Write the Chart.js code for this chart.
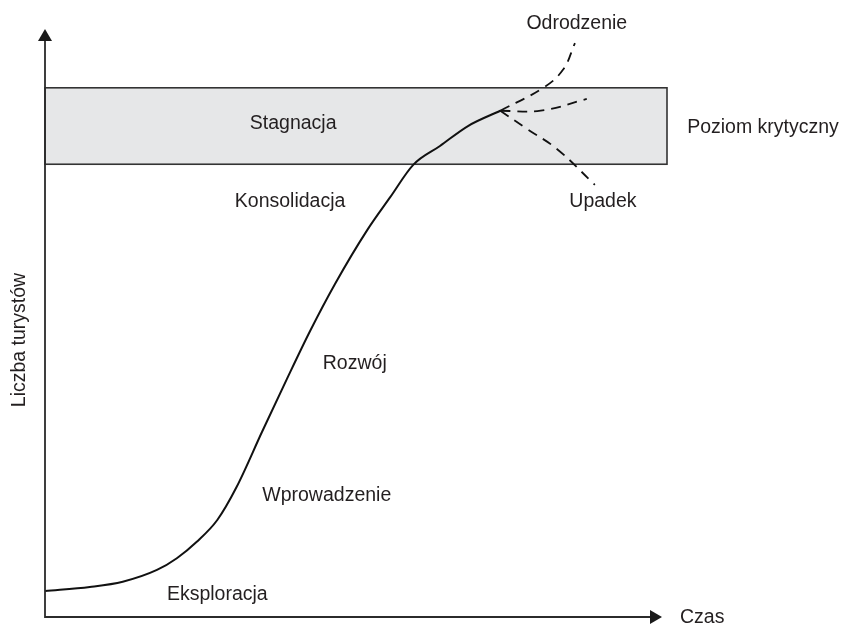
<!DOCTYPE html>
<html lang="pl">
<head>
<meta charset="utf-8">
<title>Cykl życia obszaru turystycznego</title>
<script src="https://cdn.jsdelivr.net/npm/chart.js@4/dist/chart.umd.min.js"></script>
<style>
    body { margin: 0; background: #fff; }
    #lifeCycle { display: block; }
</style>
</head>
<body>
<canvas id="lifeCycle" width="852" height="627"></canvas>
<script>
// time (0-100) vs number of tourists (0-100)
const curveTime    = [0, 7.2, 12.5, 18.0, 21.2, 24.4, 27.7, 30.8, 34.9, 38.9, 42.6, 46.6, 51.8, 55.5, 59.2, 63.5, 68.0, 73.2];
const curveTourist = [4.4, 5.1, 6.0, 8.0, 10.0, 12.8, 16.5, 22.1, 31.5, 40.5, 48.6, 56.6, 65.8, 71.4, 76.9, 80.1, 83.5, 86.1];

const revivalTime    = [73.2, 80.1, 83.3, 85.2];
const revivalTourist = [86.1, 90.0, 93.1, 97.6];

const steadyTime    = [73.2, 79.7, 87.1];
const steadyTourist = [86.1, 86.1, 88.1];

const declineTime    = [73.2, 77.5, 82.3, 88.4];
const declineTourist = [86.1, 83.0, 79.6, 73.5];

// critical capacity band
const bandLow = 77.0;
const bandHigh = 90.0;

const stageLabels = [
    { text: "Stagnacja", t: 39.9, n: 84.2 },
    { text: "Konsolidacja", t: 39.4, n: 70.9 },
    { text: "Rozwój", t: 49.8, n: 43.4 },
    { text: "Wprowadzenie", t: 45.3, n: 21.0 },
    { text: "Eksploracja", t: 27.7, n: 4.2 },
    { text: "Odrodzenie", t: 85.5, n: 101.2 },
    { text: "Upadek", t: 89.7, n: 70.9 }
];

const axisTitleY = "Liczba turystów";
const axisTitleX = "Czas";
const bandTitle = "Poziom krytyczny";

const textColor = "#231f20";
const fontSpec = '19.5px "Liberation Sans", Arial, sans-serif';

function toPoints(xs, ys) {
    return xs.map((x, i) => ({ x: x, y: ys[i] }));
}

const bandPlugin = {
    id: "band",
    beforeDatasetsDraw(chart) {
        const ctx = chart.ctx;
        const area = chart.chartArea;
        const y = chart.scales.y;
        const top = y.getPixelForValue(bandHigh);
        const bottom = y.getPixelForValue(bandLow);

        ctx.save();
        ctx.fillStyle = "#e6e7e8";
        ctx.fillRect(area.left, top, area.right - area.left, bottom - top);
        ctx.strokeStyle = "#333";
        ctx.lineWidth = 1.6;
        ctx.strokeRect(area.left, top, area.right - area.left, bottom - top);
        ctx.restore();
    }
};

const decorPlugin = {
    id: "decor",
    afterDatasetsDraw(chart) {
        const ctx = chart.ctx;
        const area = chart.chartArea;
        const xs = chart.scales.x;
        const ys = chart.scales.y;

        ctx.save();

        // axes with arrow heads
        ctx.strokeStyle = "#2b2b2b";
        ctx.fillStyle = "#1a1a1a";
        ctx.lineWidth = 1.8;
        const tipX = area.right - 5;
        ctx.beginPath();
        ctx.moveTo(area.left, area.top + 8);
        ctx.lineTo(area.left, area.bottom);
        ctx.lineTo(tipX - 8, area.bottom);
        ctx.stroke();

        ctx.beginPath();
        ctx.moveTo(area.left, area.top);
        ctx.lineTo(area.left - 7, area.top + 12);
        ctx.lineTo(area.left + 7, area.top + 12);
        ctx.closePath();
        ctx.fill();

        ctx.beginPath();
        ctx.moveTo(tipX, area.bottom);
        ctx.lineTo(tipX - 12, area.bottom - 7);
        ctx.lineTo(tipX - 12, area.bottom + 7);
        ctx.closePath();
        ctx.fill();

        // texts
        ctx.fillStyle = textColor;
        ctx.font = fontSpec;
        ctx.textAlign = "center";
        ctx.textBaseline = "middle";
        stageLabels.forEach(l => {
            ctx.fillText(l.text, xs.getPixelForValue(l.t), ys.getPixelForValue(l.n) + 2);
        });

        ctx.fillText(bandTitle, area.right + 96, ys.getPixelForValue((bandLow + bandHigh) / 2) + 2);

        ctx.textAlign = "left";
        ctx.fillText(axisTitleX, area.right + 13, area.bottom + 1);

        ctx.translate(20, (area.top + area.bottom) / 2 + 17);
        ctx.rotate(-Math.PI / 2);
        ctx.textAlign = "center";
        ctx.fillText(axisTitleY, 0, 0);

        ctx.restore();
    }
};

const dashed = [10, 7];

new Chart(document.getElementById("lifeCycle"), {
    type: "line",
    data: {
        datasets: [
            {
                data: toPoints(curveTime, curveTourist),
                borderColor: "#111",
                borderWidth: 2,
                cubicInterpolationMode: "monotone",
                pointRadius: 0
            },
            {
                data: toPoints(revivalTime, revivalTourist),
                borderColor: "#111",
                borderWidth: 1.8,
                borderDash: dashed,
                tension: 0.4,
                pointRadius: 0
            },
            {
                data: toPoints(steadyTime, steadyTourist),
                borderColor: "#111",
                borderWidth: 1.8,
                borderDash: dashed,
                tension: 0.4,
                pointRadius: 0
            },
            {
                data: toPoints(declineTime, declineTourist),
                borderColor: "#111",
                borderWidth: 1.8,
                borderDash: dashed,
                tension: 0.4,
                pointRadius: 0
            }
        ]
    },
    options: {
        responsive: false,
        animation: false,
        events: [],
        layout: {
            padding: { left: 45, right: 185, top: 29, bottom: 10 }
        },
        plugins: {
            legend: { display: false },
            tooltip: { enabled: false }
        },
        scales: {
            x: { type: "linear", min: 0, max: 100, display: false },
            y: { type: "linear", min: 0, max: 100, display: false }
        }
    },
    plugins: [bandPlugin, decorPlugin]
});
</script>
</body>
</html>
